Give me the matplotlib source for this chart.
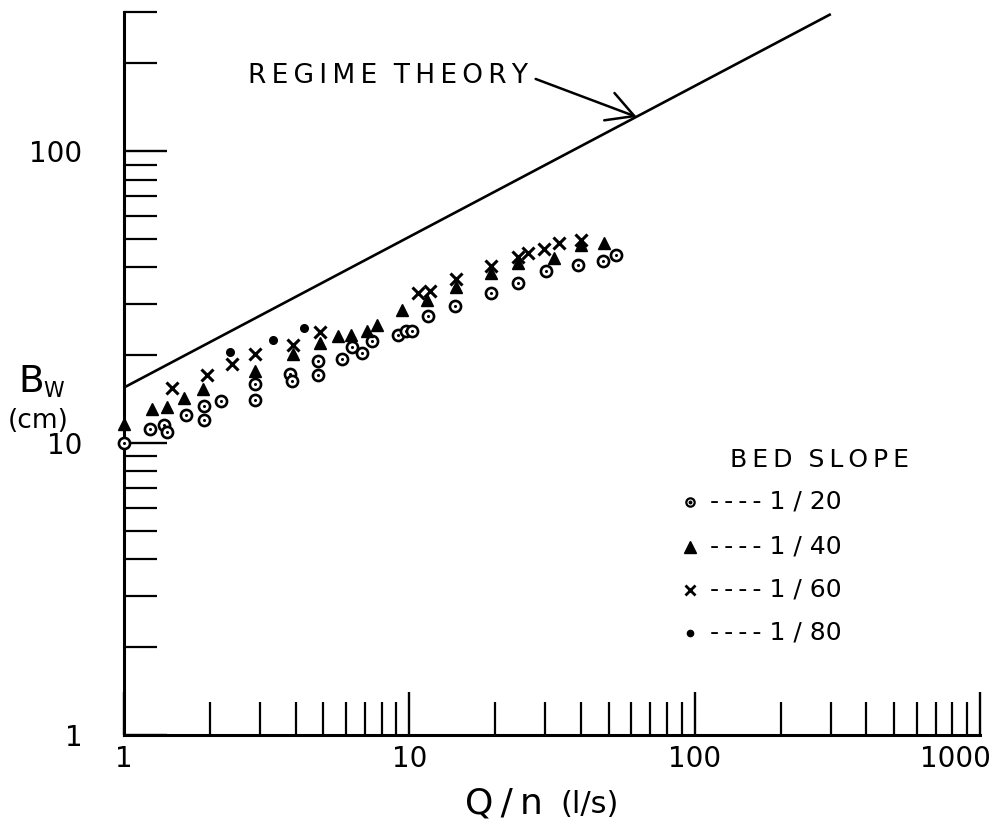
import matplotlib
matplotlib.use("Agg")
import matplotlib.pyplot as plt
from matplotlib.ticker import LogLocator, NullFormatter
from matplotlib.transforms import ScaledTranslation

# bed slope 1/20 (open circles with a dot in the middle)
q_20 = [1.0, 1.23, 1.38, 1.42, 1.65, 1.9, 1.9, 2.18, 2.89, 2.89, 3.82, 3.88,
        4.8, 4.8, 5.83, 6.32, 6.84, 7.37, 9.1, 9.7, 10.2, 11.6, 14.4, 19.4,
        24.0, 30.1, 39.0, 47.6, 52.8]
b_20 = [10.0, 11.2, 11.5, 10.9, 12.5, 13.4, 12.0, 13.9, 16.0, 14.0, 17.2, 16.3,
        19.1, 17.1, 19.4, 21.3, 20.3, 22.4, 23.4, 24.2, 24.3, 27.2, 29.4, 32.6,
        35.3, 38.8, 40.7, 42.0, 44.0]

# bed slope 1/40 (filled triangles)
q_40 = [1.0, 1.25, 1.42, 1.62, 1.89, 2.89, 3.9, 4.85, 5.64, 6.27, 7.13, 7.72,
        9.45, 11.5, 14.6, 19.4, 24.0, 32.1, 39.9, 48.1]
b_40 = [11.6, 13.1, 13.3, 14.3, 15.3, 17.6, 20.2, 22.0, 23.3, 23.4, 24.2, 25.4,
        28.5, 30.9, 34.2, 38.2, 41.3, 43.0, 47.6, 48.4]

# bed slope 1/60 (crosses)
q_60 = [1.47, 1.95, 2.39, 2.89, 3.9, 4.88, 10.7, 11.8, 14.6, 19.4, 24.0, 26.1,
        29.6, 33.4, 39.9]
b_60 = [15.4, 17.1, 18.7, 20.2, 21.7, 24.0, 32.6, 33.3, 36.5, 40.4, 43.3, 44.7,
        46.2, 48.4, 49.6]

# bed slope 1/80 (dots)
q_80 = [2.35, 3.34, 4.29]
b_80 = [20.5, 22.5, 24.8]

# regime theory line
regime_q = [1, 300]
regime_b = [15.5, 295]

x_ticks = [1, 10, 100, 1000]
x_tick_labels = ['1', '10', '100', '1000']
y_ticks = [1, 10, 100]
y_tick_labels = ['1', '10', '100']
legend_labels = ['1 / 20', '1 / 40', '1 / 60', '1 / 80']

plt.rcParams['font.family'] = ['DejaVu Sans']

fig = plt.figure(figsize=(10.03, 8.25), dpi=100)
ax = fig.add_axes([0.1236, 0.1091, 0.8535, 0.8764])
ax.set_xscale('log')
ax.set_yscale('log')
ax.set_xlim(1, 1000)
ax.set_ylim(1, 300)

ax.plot(regime_q, regime_b, color='black', lw=1.9, solid_capstyle='butt')

# data points
ax.plot(q_20, b_20, 'o', ms=8, mfc='white', mec='black', mew=1.9, clip_on=False, zorder=3)
ax.plot(q_20, b_20, 'o', ms=2.2, mfc='black', mec='black', mew=0, clip_on=False, zorder=3)
ax.plot(q_40, b_40, '^', ms=9, color='black', clip_on=False, zorder=4)
ax.plot(q_60, b_60, 'x', ms=8, mew=2.2, color='black', zorder=5)
ax.plot(q_80, b_80, 'o', ms=5.5, color='black', zorder=5)

# spaced-out lettering like the original
regime_text = '\u2009'.join('REGIME') + '  ' + '\u2009'.join('THEORY')
ax.annotate(regime_text, xy=(62.7, 131), xycoords='data',
            xytext=(0.1445, 0.9115), textcoords='axes fraction',
            ha='left', va='center', fontsize=19,
            arrowprops=dict(arrowstyle='->, head_length=0.55, head_width=0.3',
                            mutation_scale=35, lw=1.8, color='black',
                            relpos=(1.0, 0.5), shrinkA=4, shrinkB=0))

# axes look
for side in ['top', 'right']:
    ax.spines[side].set_visible(False)
for side in ['left', 'bottom']:
    ax.spines[side].set_linewidth(2.2)

ax.set_xticks(x_ticks, x_tick_labels)
ax.set_yticks(y_ticks, y_tick_labels)
ax.xaxis.set_minor_locator(LogLocator(base=10, subs=range(2, 10)))
ax.yaxis.set_minor_locator(LogLocator(base=10, subs=range(2, 10)))
ax.xaxis.set_minor_formatter(NullFormatter())
ax.yaxis.set_minor_formatter(NullFormatter())
ax.tick_params(which='major', direction='in', length=31, width=1.7, labelsize=20)
ax.tick_params(which='minor', direction='in', length=24, width=1.6)
ax.tick_params(axis='x', which='major', pad=7)
ax.tick_params(axis='y', which='major', pad=30)

# the 1000 label sits a bit left of its tick
last = ax.xaxis.get_major_ticks()[-1].label1
last.set_transform(last.get_transform() + ScaledTranslation(-0.25, 0, fig.dpi_scale_trans))

# axis titles
fig.text(18 / 1003, 1 - 392 / 825, 'B', fontsize=27, ha='left', va='baseline')
fig.text(43 / 1003, 1 - 397 / 825, 'W', fontsize=15, ha='left', va='baseline')
fig.text(8 / 1003, 1 - 428 / 825, '(cm)', fontsize=19, ha='left', va='baseline')
fig.text(465 / 1003, 1 - 813 / 825, 'Q\u2009/\u2009n', fontsize=26, ha='left', va='baseline')
fig.text(560 / 1003, 1 - 813 / 825, '(l/s)', fontsize=22, ha='left', va='baseline')

# legend drawn by hand
ax.text(0.813, 0.381, 'B\u2009E\u2009D  S\u2009L\u2009O\u2009P\u2009E', transform=ax.transAxes,
        fontsize=18, ha='center', va='center')
rows_y = [0.3227, 0.2604, 0.2008, 0.1413]
ax.plot(0.661, rows_y[0], 'o', ms=6, mfc='white', mec='black', mew=1.6,
        transform=ax.transAxes, clip_on=False)
ax.plot(0.661, rows_y[0], 'o', ms=1.8, color='black', transform=ax.transAxes, clip_on=False)
ax.plot(0.661, rows_y[1], '^', ms=8, color='black', transform=ax.transAxes, clip_on=False)
ax.plot(0.661, rows_y[2], 'x', ms=6.5, mew=2, color='black', transform=ax.transAxes, clip_on=False)
ax.plot(0.661, rows_y[3], 'o', ms=4.5, color='black', transform=ax.transAxes, clip_on=False)
for yy, lab in zip(rows_y, legend_labels):
    ax.text(0.684, yy, '-\u2009-\u2009-\u2009- ' + lab, transform=ax.transAxes,
            fontsize=18, ha='left', va='center')

fig.savefig('out.png', dpi=100)
